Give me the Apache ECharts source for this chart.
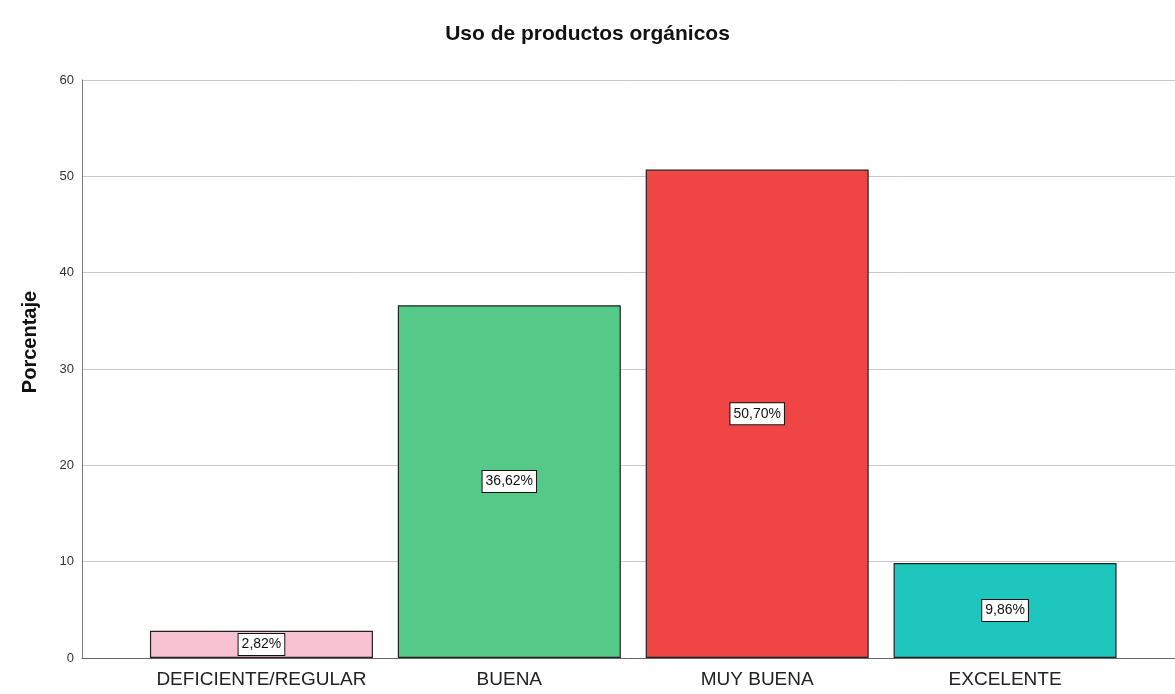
<!DOCTYPE html>
<html>
<head>
<meta charset="utf-8">
<script src="https://cdn.jsdelivr.net/npm/echarts@6/dist/echarts.min.js"></script>
<style>html,body{margin:0;padding:0;background:#fff;}#c{width:1175px;height:694px;}</style>
</head>
<body>
<div id="c"></div>
<script>
const title = 'Uso de productos orgánicos';
const yAxisName = 'Porcentaje';
const categories = ['DEFICIENTE/REGULAR', 'BUENA', 'MUY BUENA', 'EXCELENTE'];
const values = [2.82, 36.62, 50.70, 9.86];
const valueLabels = ['2,82%', '36,62%', '50,70%', '9,86%'];
const barColors = ['#f8c2d2', '#55c987', '#ef4545', '#1fc6be'];
const yTicks = [0, 10, 20, 30, 40, 50, 60];

const chart = echarts.init(document.getElementById('c'), null, {renderer: 'canvas'});
const font = 'Arial, "Liberation Sans", sans-serif';
chart.setOption({
  animation: false,
  backgroundColor: '#ffffff',
  title: {
    text: title, left: 'center', top: 19,
    textStyle: {fontFamily: font, fontSize: 21, fontWeight: 'bold', color: '#111'}
  },
  graphic: [{
    type: 'text', x: 30, y: 342, rotation: Math.PI / 2,
    style: {text: yAxisName, fontFamily: font, fontSize: 20, fontWeight: 'bold',
            fill: '#111', align: 'center', verticalAlign: 'middle'}
  }],
  grid: [
    {left: 82, right: 0, top: 80, bottom: 36},
    {left: 137.5, right: 46, top: 80, bottom: 36}
  ],
  xAxis: [
    {gridIndex: 0, type: 'value', min: 0, max: 1, show: true,
     axisLine: {show: true, lineStyle: {color: '#666', width: 1}},
     axisTick: {show: false}, axisLabel: {show: false}, splitLine: {show: false}},
    {gridIndex: 1, type: 'category', data: categories,
     axisLine: {show: false}, axisTick: {show: false},
     axisLabel: {interval: 0, hideOverlap: false, fontFamily: font, fontSize: 19, color: '#222', margin: 12}}
  ],
  yAxis: [
    {gridIndex: 0, type: 'value', min: 0, max: 60, interval: 10,
     axisLine: {show: true, lineStyle: {color: '#777', width: 1}},
     axisTick: {show: false},
     axisLabel: {fontFamily: font, fontSize: 13, color: '#333', margin: 8,
                 formatter: v => yTicks.includes(v) ? String(v) : ''},
     splitLine: {show: true, lineStyle: {color: '#c8c8c8', width: 1}}},
    {gridIndex: 1, type: 'value', min: 0, max: 60, interval: 10, show: false}
  ],
  series: [{
    type: 'bar',
    xAxisIndex: 1, yAxisIndex: 1,
    barWidth: 223,
    data: values.map((v, i) => ({
      value: v,
      itemStyle: {color: barColors[i], borderColor: '#222', borderWidth: 1.2},
      label: {formatter: valueLabels[i]}
    })),
    label: {
      show: true, position: 'inside',
      fontFamily: font, fontSize: 14, color: '#111',
      backgroundColor: '#fff', borderColor: '#111', borderWidth: 1,
      padding: [4, 3, 3, 3]
    }
  }]
});
</script>
</body>
</html>
